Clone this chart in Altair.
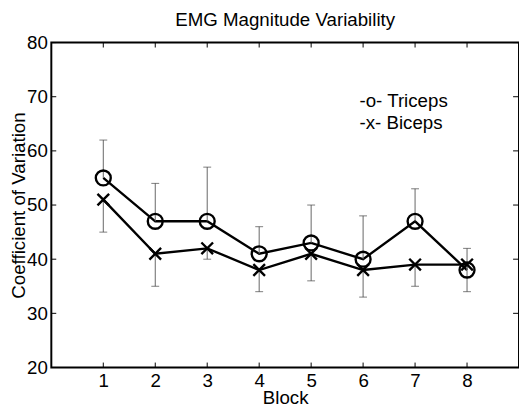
import altair as alt
import pandas as pd

blocks = [1, 2, 3, 4, 5, 6, 7, 8]
triceps = [55, 47, 47, 41, 43, 40, 47, 38]
biceps = [51, 41, 42, 38, 41, 38, 39, 39]
triceps_sd = [7, 7, 10, 5, 7, 8, 6, 4]
biceps_sd = [6, 6, 2, 4, 5, 5, 4, 5]
legend_labels = ["-o- Triceps", "-x- Biceps"]
legend_y = [69.2, 65.1]
legend_x = [5.93, 5.93]
x_ticks = [1, 2, 3, 4, 5, 6, 7, 8]
y_ticks = [20, 30, 40, 50, 60, 70, 80]

FONT = "Liberation Sans"
FS = 19

tri = pd.DataFrame({"block": blocks, "value": triceps,
                    "lo": triceps, "hi": [m + s for m, s in zip(triceps, triceps_sd)]})
bic = pd.DataFrame({"block": blocks, "value": biceps,
                    "lo": [m - s for m, s in zip(biceps, biceps_sd)], "hi": biceps})
err = pd.DataFrame({"block": blocks * 2,
                    "lo": list(tri["lo"]) + list(bic["lo"]),
                    "hi": list(tri["hi"]) + list(bic["hi"])})
caps = pd.DataFrame({"block": blocks * 2,
                     "cap": list(tri["hi"]) + list(bic["lo"])})
leg = pd.DataFrame({"x": legend_x, "y": legend_y, "label": legend_labels})
xt = pd.DataFrame({"t": x_ticks})
yt = pd.DataFrame({"t": y_ticks})

xscale = alt.Scale(domain=[0, 9], nice=False, zero=False)
yscale = alt.Scale(domain=[20, 80], nice=False, zero=False)

X = alt.X("block:Q", scale=xscale,
          axis=alt.Axis(values=x_ticks, title="Block", grid=False, ticks=False,
                        domain=False, labelFontSize=FS, labelFont=FONT,
                        labelColor="black", labelPadding=4, titleFont=FONT,
                        titleFontSize=FS, titleFontWeight="normal",
                        titleColor="black", titlePadding=-1))
Y = alt.Y("value:Q", scale=yscale,
          axis=alt.Axis(values=y_ticks, title="Coefficient of Variation",
                        grid=False, ticks=False, domain=False, labelFontSize=FS,
                        labelFont=FONT, labelColor="black", labelPadding=4,
                        titleFont=FONT, titleFontSize=FS,
                        titleFontWeight="normal", titleColor="black",
                        titlePadding=-2))

base_err = alt.Chart(err).mark_rule(color="#666666", strokeWidth=1).encode(
    x=alt.X("block:Q", scale=xscale), y=alt.Y("lo:Q", scale=yscale), y2="hi:Q")
cap_marks = alt.Chart(caps).mark_tick(color="#444444", thickness=1, size=8,
                                      orient="horizontal").encode(
    x=alt.X("block:Q", scale=xscale), y=alt.Y("cap:Q", scale=yscale))

tri_line = alt.Chart(tri).mark_line(color="black", strokeWidth=2.4).encode(x=X, y=Y)
bic_line = alt.Chart(bic).mark_line(color="black", strokeWidth=2.4).encode(
    x=alt.X("block:Q", scale=xscale), y=alt.Y("value:Q", scale=yscale))
tri_pts = alt.Chart(tri).mark_point(shape="circle", filled=False, color="black",
                                    strokeWidth=2.4, size=230, opacity=1).encode(
    x=alt.X("block:Q", scale=xscale), y=alt.Y("value:Q", scale=yscale))
bic_pts = alt.Chart(bic).mark_point(shape="M-1,-1L1,1M-1,1L1,-1", filled=False,
                                    color="black", strokeWidth=2.4, size=140,
                                    opacity=1).encode(
    x=alt.X("block:Q", scale=xscale), y=alt.Y("value:Q", scale=yscale))

legend = alt.Chart(leg).mark_text(align="left", baseline="middle", font=FONT,
                                  fontSize=FS, color="black").encode(
    x=alt.X("x:Q", scale=xscale), y=alt.Y("y:Q", scale=yscale), text="label:N")

# inward tick marks on all four sides
tick_bottom = alt.Chart(xt).mark_rule(color="black", strokeWidth=1).encode(
    x=alt.X("t:Q", scale=xscale), y=alt.value(330), y2=alt.value(325))
tick_top = alt.Chart(xt).mark_rule(color="black", strokeWidth=1).encode(
    x=alt.X("t:Q", scale=xscale), y=alt.value(0), y2=alt.value(5))
tick_left = alt.Chart(yt).mark_rule(color="black", strokeWidth=1).encode(
    y=alt.Y("t:Q", scale=yscale), x=alt.value(0), x2=alt.value(5))
tick_right = alt.Chart(yt).mark_rule(color="black", strokeWidth=1).encode(
    y=alt.Y("t:Q", scale=yscale), x=alt.value(475), x2=alt.value(469))

chart = alt.layer(
    tri_line, base_err, cap_marks, bic_line, tri_pts, bic_pts, legend,
    tick_bottom, tick_top, tick_left, tick_right
).properties(
    width=475, height=330,
    title=alt.Title("EMG Magnitude Variability", font=FONT, fontSize=FS,
                    fontWeight="normal", color="black", offset=4),
    autosize=alt.AutoSizeParams(type="none"),
    padding={"left": 44, "top": 32, "right": 0, "bottom": 37},
).configure(background="white").configure_view(stroke="black", strokeWidth=2)

chart.save("out.html", embed_options={"renderer": "svg", "actions": False})
